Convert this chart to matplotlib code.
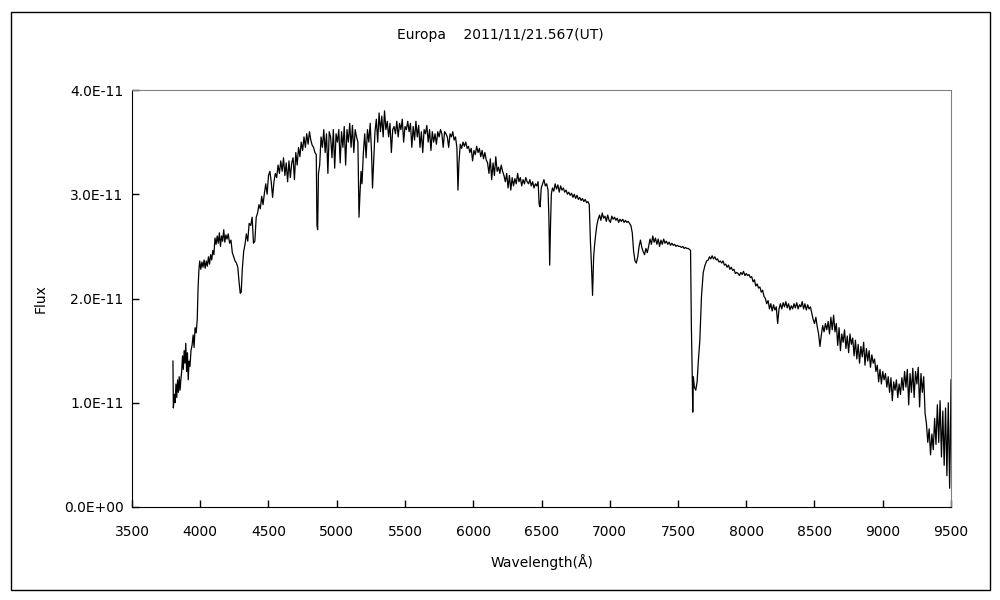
import matplotlib
matplotlib.use("Agg")
import matplotlib.pyplot as plt
from matplotlib.patches import Rectangle
from matplotlib.ticker import FuncFormatter

# wavelength (A) and flux (units of 1e-11)
wl = [3800, 3803, 3810, 3816, 3822, 3828, 3834, 3840, 3846, 3852, 3858, 3864,
      3870, 3876, 3882, 3888, 3894, 3900, 3906, 3912, 3918, 3925, 3932, 3940,
      3948, 3955, 3962, 3970, 3978, 3984, 3990, 3996, 4004, 4012, 4020, 4028,
      4036, 4044, 4052, 4060, 4068, 4076, 4084, 4092, 4100, 4108, 4116, 4124,
      4132, 4140, 4148, 4156, 4164, 4172, 4180, 4188, 4196, 4205, 4215, 4225,
      4235, 4245, 4255, 4265, 4275, 4285, 4293, 4300, 4308, 4318, 4328, 4338,
      4348, 4358, 4370, 4380, 4390, 4400, 4410, 4420, 4430, 4440, 4450, 4460,
      4470, 4480, 4490, 4500, 4510, 4520, 4530, 4540, 4550, 4560, 4570, 4580,
      4590, 4600, 4610, 4620, 4630, 4640, 4650, 4660, 4670, 4680, 4690, 4700,
      4710, 4720, 4730, 4740, 4750, 4760, 4770, 4780, 4790, 4800, 4810, 4820,
      4830, 4840, 4850, 4855, 4860, 4866, 4875, 4885, 4895, 4905, 4915, 4925,
      4935, 4945, 4955, 4965, 4975, 4985, 4995, 5005, 5015, 5025, 5035, 5045,
      5055, 5065, 5075, 5085, 5095, 5105, 5115, 5125, 5135, 5145, 5155, 5163,
      5170, 5178, 5185, 5195, 5205, 5215, 5225, 5235, 5245, 5255, 5262, 5270,
      5280, 5290, 5300, 5310, 5320, 5330, 5340, 5350, 5360, 5370, 5380, 5390,
      5400, 5410, 5420, 5430, 5440, 5450, 5460, 5470, 5480, 5490, 5500, 5510,
      5520, 5530, 5540, 5550, 5560, 5570, 5580, 5590, 5600, 5610, 5620, 5630,
      5640, 5650, 5660, 5670, 5680, 5690, 5700, 5710, 5720, 5730, 5740, 5750,
      5760, 5770, 5780, 5790, 5800, 5810, 5820, 5830, 5840, 5850, 5860, 5870,
      5880, 5888, 5895, 5905, 5915, 5925, 5935, 5945, 5955, 5965, 5975, 5985,
      5995, 6005, 6015, 6025, 6035, 6045, 6055, 6065, 6075, 6085, 6095, 6105,
      6115, 6125, 6135, 6145, 6155, 6165, 6175, 6185, 6195, 6205, 6215, 6225,
      6235, 6245, 6255, 6265, 6275, 6285, 6295, 6305, 6315, 6325, 6335, 6345,
      6355, 6365, 6375, 6385, 6395, 6405, 6415, 6425, 6435, 6445, 6455, 6465,
      6475, 6483, 6490, 6498, 6508, 6518, 6528, 6538, 6548, 6554, 6560, 6566,
      6572, 6580, 6590, 6600, 6610, 6620, 6630, 6640, 6650, 6660, 6670, 6680,
      6690, 6700, 6710, 6720, 6730, 6740, 6750, 6760, 6770, 6780, 6790, 6800,
      6810, 6820, 6830, 6840, 6850, 6858, 6866, 6874, 6882, 6888, 6895, 6905,
      6915, 6925, 6935, 6945, 6955, 6965, 6975, 6985, 6995, 7005, 7015, 7025,
      7035, 7045, 7055, 7065, 7075, 7085, 7095, 7105, 7115, 7125, 7135, 7145,
      7155, 7165, 7175, 7185, 7195, 7205, 7215, 7225, 7235, 7245, 7255, 7265,
      7275, 7285, 7295, 7305, 7315, 7325, 7335, 7345, 7355, 7365, 7375, 7385,
      7395, 7405, 7415, 7425, 7435, 7445, 7455, 7465, 7475, 7485, 7495, 7505,
      7515, 7525, 7535, 7545, 7555, 7565, 7575, 7585, 7592, 7598, 7604, 7608,
      7612, 7620, 7630, 7640, 7648, 7660, 7672, 7685, 7698, 7710, 7722, 7730,
      7740, 7750, 7760, 7770, 7780, 7790, 7800, 7810, 7820, 7830, 7840, 7850,
      7860, 7870, 7880, 7890, 7900, 7910, 7920, 7930, 7940, 7950, 7960, 7970,
      7980, 7990, 8000, 8010, 8020, 8030, 8040, 8050, 8060, 8070, 8080, 8090,
      8100, 8110, 8120, 8130, 8140, 8150, 8160, 8170, 8180, 8190, 8200, 8210,
      8220, 8230, 8240, 8250, 8260, 8270, 8280, 8290, 8300, 8310, 8320, 8330,
      8340, 8350, 8360, 8370, 8380, 8390, 8400, 8410, 8420, 8430, 8440, 8450,
      8460, 8470, 8480, 8490, 8500, 8510, 8520, 8530, 8540, 8550, 8560, 8570,
      8580, 8590, 8600, 8610, 8620, 8630, 8640, 8650, 8660, 8670, 8680, 8690,
      8700, 8710, 8720, 8730, 8740, 8750, 8760, 8770, 8780, 8790, 8800, 8810,
      8820, 8830, 8840, 8850, 8860, 8870, 8880, 8890, 8900, 8910, 8920, 8930,
      8940, 8950, 8960, 8970, 8980, 8990, 9000, 9010, 9020, 9030, 9040, 9050,
      9060, 9070, 9080, 9090, 9100, 9110, 9120, 9130, 9140, 9150, 9160, 9170,
      9180, 9190, 9200, 9210, 9220, 9230, 9240, 9250, 9260, 9270, 9280, 9290,
      9300, 9310, 9320, 9330, 9340, 9350, 9360, 9370, 9380, 9390, 9400, 9410,
      9420, 9430, 9440, 9450, 9460, 9470, 9480, 9490, 9495, 9500]

flux = [1.40, 0.95, 1.08, 1.00, 1.18, 1.05, 1.22, 1.10, 1.25, 1.12, 1.22, 1.30,
        1.45, 1.32, 1.50, 1.38, 1.57, 1.30, 1.48, 1.22, 1.40, 1.35, 1.50, 1.55,
        1.65, 1.53, 1.72, 1.67, 1.80, 2.10, 2.27, 2.36, 2.28, 2.35, 2.30, 2.37,
        2.29, 2.36, 2.31, 2.40, 2.33, 2.42, 2.37, 2.46, 2.42, 2.58, 2.52, 2.60,
        2.53, 2.63, 2.50, 2.60, 2.55, 2.66, 2.54, 2.61, 2.57, 2.62, 2.53, 2.56,
        2.44, 2.40, 2.36, 2.34, 2.30, 2.15, 2.05, 2.06, 2.28, 2.45, 2.52, 2.62,
        2.55, 2.72, 2.70, 2.78, 2.53, 2.55, 2.78, 2.82, 2.90, 2.86, 2.98, 2.90,
        3.01, 3.10, 3.00, 3.18, 3.22, 3.12, 2.97, 3.12, 3.20, 3.16, 3.28, 3.20,
        3.32, 3.22, 3.35, 3.18, 3.30, 3.12, 3.32, 3.16, 3.30, 3.35, 3.14, 3.40,
        3.28, 3.45, 3.36, 3.50, 3.42, 3.55, 3.45, 3.58, 3.48, 3.60, 3.52, 3.47,
        3.45, 3.40, 3.38, 2.70, 2.66, 3.20, 3.28, 3.55, 3.45, 3.62, 3.40, 3.58,
        3.20, 3.60, 3.55, 3.35, 3.62, 3.25, 3.58, 3.50, 3.62, 3.30, 3.60, 3.45,
        3.65, 3.28, 3.62, 3.50, 3.68, 3.45, 3.66, 3.40, 3.62, 3.55, 3.50, 2.78,
        3.00, 3.22, 3.10, 3.40, 3.58, 3.35, 3.62, 3.50, 3.68, 3.40, 3.06, 3.30,
        3.60, 3.72, 3.50, 3.78, 3.60, 3.75, 3.55, 3.80, 3.62, 3.70, 3.55, 3.68,
        3.40, 3.62, 3.65, 3.58, 3.70, 3.55, 3.68, 3.62, 3.72, 3.50, 3.65, 3.62,
        3.70, 3.60, 3.68, 3.45, 3.65, 3.52, 3.70, 3.55, 3.66, 3.45, 3.60, 3.40,
        3.62, 3.58, 3.66, 3.50, 3.62, 3.42, 3.60, 3.50, 3.58, 3.48, 3.60, 3.55,
        3.62, 3.58, 3.45, 3.60, 3.58, 3.55, 3.45, 3.58, 3.55, 3.60, 3.52, 3.55,
        3.45, 3.04, 3.30, 3.48, 3.44, 3.50, 3.46, 3.50, 3.44, 3.46, 3.40, 3.44,
        3.32, 3.42, 3.38, 3.46, 3.40, 3.44, 3.36, 3.42, 3.34, 3.40, 3.33, 3.30,
        3.20, 3.34, 3.14, 3.30, 3.18, 3.36, 3.22, 3.26, 3.20, 3.28, 3.22, 3.18,
        3.12, 3.20, 3.06, 3.18, 3.04, 3.16, 3.08, 3.15, 3.10, 3.20, 3.12, 3.16,
        3.08, 3.14, 3.10, 3.16, 3.12, 3.10, 3.14, 3.08, 3.12, 3.06, 3.10, 3.08,
        3.12, 2.90, 2.88, 3.06, 3.10, 3.14, 3.08, 3.10, 3.04, 2.78, 2.32, 2.70,
        3.00, 3.06, 3.03, 3.10, 3.05, 3.09, 3.02, 3.08, 3.04, 3.06, 3.02, 3.04,
        3.00, 3.02, 2.99, 3.01, 2.97, 3.00, 2.96, 2.99, 2.95, 2.97, 2.94, 2.96,
        2.93, 2.95, 2.92, 2.93, 2.90, 2.56, 2.32, 2.03, 2.40, 2.50, 2.59, 2.70,
        2.76, 2.80, 2.75, 2.82, 2.77, 2.79, 2.74, 2.80, 2.75, 2.73, 2.79, 2.76,
        2.78, 2.75, 2.77, 2.73, 2.76, 2.74, 2.76, 2.73, 2.75, 2.73, 2.74, 2.72,
        2.70, 2.63, 2.45, 2.36, 2.34, 2.40, 2.50, 2.56, 2.49, 2.45, 2.42, 2.48,
        2.44, 2.50, 2.57, 2.52, 2.60, 2.54, 2.58, 2.52, 2.57, 2.50, 2.56, 2.52,
        2.57, 2.53, 2.55, 2.52, 2.54, 2.51, 2.53, 2.51, 2.52, 2.50, 2.51, 2.50,
        2.50, 2.49, 2.50, 2.48, 2.49, 2.48, 2.48, 2.47, 2.46, 1.73, 1.29, 0.91,
        1.25, 1.15, 1.12, 1.20, 1.38, 1.60, 2.02, 2.25, 2.32, 2.36, 2.37, 2.40,
        2.38, 2.41, 2.38, 2.40, 2.37, 2.38, 2.35, 2.36, 2.34, 2.36, 2.32, 2.33,
        2.30, 2.32, 2.28, 2.30, 2.27, 2.28, 2.24, 2.25, 2.24, 2.22, 2.25, 2.23,
        2.26, 2.22, 2.24, 2.22, 2.23, 2.20, 2.21, 2.16, 2.18, 2.12, 2.14, 2.10,
        2.11, 2.06, 2.08, 2.02, 2.00, 1.95, 1.98, 1.90, 1.95, 1.88, 1.94, 1.89,
        1.92, 1.76, 1.90, 1.95, 1.90, 1.96, 1.92, 1.97, 1.91, 1.95, 1.89, 1.93,
        1.90, 1.95, 1.91, 1.96, 1.90, 1.94, 1.92, 1.97, 1.90, 1.95, 1.89, 1.94,
        1.90, 1.92, 1.86, 1.80, 1.76, 1.82, 1.73, 1.66, 1.54, 1.65, 1.74, 1.68,
        1.76, 1.70, 1.78, 1.66, 1.82, 1.70, 1.84, 1.68, 1.76, 1.55, 1.72, 1.50,
        1.66, 1.58, 1.70, 1.52, 1.64, 1.48, 1.66, 1.56, 1.62, 1.45, 1.60, 1.42,
        1.56, 1.38, 1.54, 1.44, 1.58, 1.36, 1.52, 1.40, 1.50, 1.34, 1.46, 1.38,
        1.42, 1.30, 1.36, 1.20, 1.32, 1.18, 1.30, 1.22, 1.28, 1.15, 1.25, 1.10,
        1.24, 1.02, 1.20, 1.12, 1.22, 1.05, 1.18, 1.08, 1.24, 1.12, 1.30, 1.15,
        1.32, 0.98, 1.28, 1.10, 1.33, 1.05, 1.30, 1.18, 1.34, 0.96, 1.28, 1.10,
        1.25, 0.90, 0.80, 0.62, 0.75, 0.50, 0.70, 0.55, 0.85, 0.60, 0.98, 0.62,
        1.02, 0.48, 0.92, 0.40, 0.95, 0.30, 1.00, 0.18, 0.60, 1.22]

x_ticks = [3500, 4000, 4500, 5000, 5500, 6000, 6500, 7000, 7500, 8000, 8500, 9000, 9500]
y_ticks = [0.0, 1e-11, 2e-11, 3e-11, 4e-11]

fig = plt.figure(figsize=(10, 6), dpi=100)
ax = fig.add_axes([0.132, 0.155, 0.819, 0.695])

ax.plot(wl, [f * 1e-11 for f in flux], color="black", linewidth=0.9)

ax.set_xlim(3500, 9500)
ax.set_ylim(0, 4e-11)
ax.set_xticks(x_ticks)
ax.set_yticks(y_ticks)


def sci_fmt(v, pos):
    s = "%.1E" % v
    mant, ex = s.split("E")
    return mant + "E" + ex[0] + ex[1:].zfill(2)


ax.yaxis.set_major_formatter(FuncFormatter(sci_fmt))
ax.tick_params(direction="in", length=5, width=1, labelsize=10)
ax.tick_params(axis="x", pad=13)
ax.tick_params(axis="y", pad=6)

for side in ["top", "right"]:
    ax.spines[side].set_color("#808080")
for side in ["left", "bottom"]:
    ax.spines[side].set_color("black")

ax.set_xlabel("Wavelength(Å)", fontsize=10, labelpad=11)
ax.set_ylabel("Flux", fontsize=10, labelpad=12)

fig.text(0.5, 0.942, "Europa    2011/11/21.567(UT)", ha="center", va="center", fontsize=10)

# outer chart frame
fig.patches.append(Rectangle((0.011, 0.017), 0.979, 0.963, transform=fig.transFigure,
                             fill=False, edgecolor="black", linewidth=1))

fig.savefig("out.png", dpi=100)
